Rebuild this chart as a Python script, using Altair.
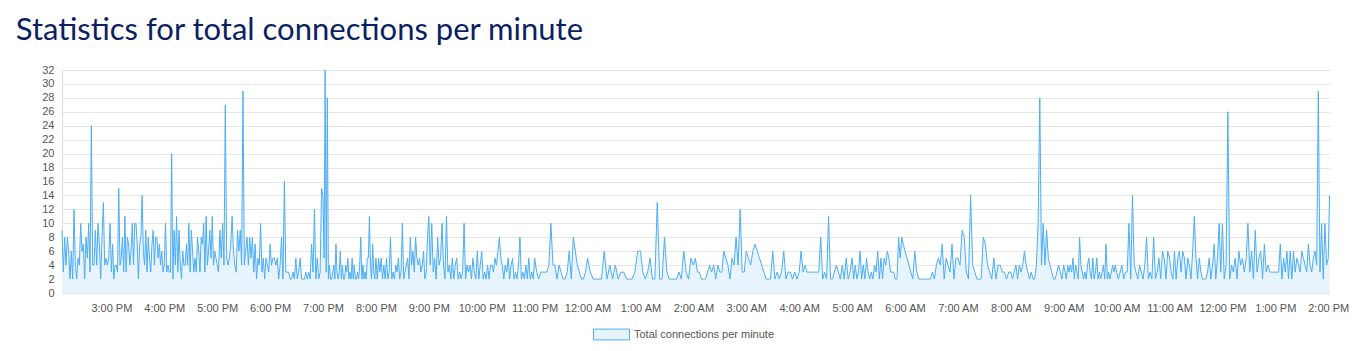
import altair as alt
import pandas as pd
from datetime import datetime, timedelta

# ---- data (grouped by hour) ----
series_name = "Total connections per minute"

hour_starts = [
    "2021-06-01T14:04", "2021-06-01T15:00", "2021-06-01T16:00", "2021-06-01T17:00",
    "2021-06-01T18:00", "2021-06-01T19:00", "2021-06-01T20:00", "2021-06-01T21:00",
    "2021-06-01T22:00", "2021-06-01T23:00", "2021-06-02T00:00", "2021-06-02T01:00",
    "2021-06-02T02:00", "2021-06-02T03:00", "2021-06-02T04:00", "2021-06-02T05:00",
    "2021-06-02T06:00", "2021-06-02T07:00", "2021-06-02T08:00", "2021-06-02T09:00",
    "2021-06-02T10:00", "2021-06-02T11:00", "2021-06-02T12:00", "2021-06-02T13:00",
    "2021-06-02T14:00",
]
hour_ends = hour_starts[1:] + ["2021-06-02T14:03"]

h14 = [9,3,8,4,8,6,2,6,2,12,4,2,5,4,10,6,7,2,8,5,10,3,24,4,4,9,4,10,7,2,8,13,4,5,4,5,10]
h15 = [3,7,2,4,4,3,15,4,5,8,3,11,3,8,7,4,6,10,4,10,10,7,2,7,8,14,6,4,9,3,8,5,3,7,9,4,8,8,5,7,4,6,3]
h16 = [4,10,3,4,3,3,20,2,9,4,11,3,9,4,2,6,4,4,7,4,10,3,9,6,3,5,3,8,6,3,8,7,10,3,11,4,6,9,5,11,4,6,5]
h17 = [4,3,9,5,10,4,27,5,4,5,7,11,6,4,3,9,6,9,4,29,4,6,8,4,8,5,8,3,7,2,5,4,10,3,5,2,5,4,3]
h18 = [7,4,5,5,4,5,2,4,8,2,16,3,3,3,2,2,3,2,5,2,3,5,2,2,2,3,2,3,2,7,3,12,2,5,2,3,15]
h19 = [14,5,32,3,28,2,4,2,2,3,4,2,7,3,2,3,6,2,4,2,2,4,3,5,2,3,2,5,2,4,2,2,3,2,4,8,2,4,2,3,2,5,5,11,4,2,7,3,2]
h20 = [5,2,5,3,5,2,4,2,5,2,3,8,2,3,2,4,3,5,2,3,10,2,3,4,5,2,8,4,6,3,8,5,4,5,3,4,6,2,3,8]
h21 = [11,4,10,3,5,2,8,4,5,10,4,2,11,3,4,2,5,2,4,5,2,3,2,3,10,2,4,3,4,2,5,3,2,6,2,4]
h22 = [6,2,3,2,4,2,4,4,3,5,4,6,8,5,4,2,4,3,5,2,4,5,2,3,2,4,8,2,3,2,4,2,5,2,3,2]
h23 = [5,3,2,3,3,3,3,4,10,4,4,2,4,3,2,2,3,6,2,8,6,4,3,2,2,3]
h00 = [5,3,2,2,2,2,6,2,4,2,4,2,3,3,2,2,2,3,6]
h01 = [6,3,2,3,5,2,2,13,2,2,8,3,2,2,2,2,3,2,6,3,2,5]
h02 = [4,5,3,3,2,2,2,3,4,3,4,2,4,3,3,6,5,4,2,5,4,8,4,12,3,3]
h03 = [6,5,4,6,7,6,5,4,3,2,2,2,6,2,3,2,3,6,2,3,3,2,3,2]
h04 = [3,6,3,4,3,3,3,3,3,3,3,8,2,3,2,11,2,2,3,4,3,2,4,2,5,2,3]
h05 = [5,2,4,2,3,6,2,4,2,5,3,2,3,2,4,3,6,2,5,2,5,4,6,5,3,3,3,2,2,8,5,8,7]
h06 = [6,5,4,3,2,6,3,2,2,2,2,2,2,2,3,2,4,5,4,7,2,5,4,3,7,2,5]
h07 = [5,4,9,8,3,2,14,4,3,2,2,2,8,7,4,3,2,5,2,4,4,3,3,2,3]
h08 = [3,2,3,4,2,4,3,4,6,4,3,2,3,2,2,4,10,28,4,10,4,9,5,4,3,2,2,3,4,3,2]
h09 = [4,3,2,4,3,4,3,5,2,4,3,2,8,4,3,2,3,2,4,5,3,2,5,2,3,5,2,3,2,3,4,2,7,2,3,2,3,4,3,4]
h10 = [3,2,3,4,2,3,3,10,2,14,4,3,2,4,3,2,4,8,2,3,2,8,2,3,5,2,6,5,2,6]
h11 = [5,3,2,6,2,5,6,3,6,5,2,5,4,2,6,11,5,2,5,3,2,2,2,3,5,2,4,7,2,5,10,3]
h12 = [10,2,4,26,2,4,3,5,2,6,4,5,3,5,10,3,6,2,9,3,5,6,2,7,3,4,3,3,3]
h13 = [3,3,3,7,2,5,3,6,2,6,2,6,3,5,4,3,6,5,4,3,7,4,3,5,6,4,29,3,10,2,10,4]
h14b = [5,14]

hour_values = [h14, h15, h16, h17, h18, h19, h20, h21, h22, h23, h00, h01, h02,
               h03, h04, h05, h06, h07, h08, h09, h10, h11, h12, h13, h14b]

rows = []
for hs, he, vals in zip(hour_starts, hour_ends, hour_values):
    t0 = datetime.fromisoformat(hs)
    t1 = datetime.fromisoformat(he)
    span = (t1 - t0).total_seconds()
    n = len(vals)
    for i, v in enumerate(vals):
        t = t0 + timedelta(seconds=span * i / n)
        rows.append({"time": t.strftime("%Y/%m/%d %H:%M:%S"), "value": v, "series": series_name})
df = pd.DataFrame(rows)

line_color = "#4cadf5"
fill_color = "#e8f4fd"
y_ticks = list(range(0, 34, 2))

# hourly tick positions 3 PM .. 2 PM
tick_hours = []
for k in range(24):
    t = datetime(2021, 6, 1, 15) + timedelta(hours=k)
    tick_hours.append(alt.DateTime(year=t.year, month=t.month, date=t.day, hours=t.hour))

x_enc = alt.X(
    "time:T",
    title=None,
    scale=alt.Scale(
        domain=[alt.DateTime(year=2021, month=6, date=1, hours=14, minutes=4),
                alt.DateTime(year=2021, month=6, date=2, hours=14, minutes=2)],
        nice=False,
    ),
    axis=alt.Axis(
        format="%-I:%M %p",
        values=tick_hours,
        grid=False, ticks=False, domain=False,
        labelFont="Liberation Sans", labelFontSize=11, labelColor="#555555",
        labelPadding=9, labelOverlap=False,
    ),
)
y_enc = alt.Y(
    "value:Q",
    title=None,
    scale=alt.Scale(domain=[0, 32], nice=False),
    axis=alt.Axis(
        values=y_ticks, grid=True, gridColor="#e6e6e6", ticks=False,
        domain=True, domainColor="#dddddd",
        labelFont="Liberation Sans", labelFontSize=11, labelColor="#555555",
        labelPadding=8, labelOverlap=False,
    ),
)

base = alt.Chart(df).encode(x=x_enc, y=y_enc)

area = base.mark_area(opacity=1, interpolate="linear").encode(
    fill=alt.Fill(
        "series:N",
        scale=alt.Scale(range=[fill_color]),
        legend=alt.Legend(
            title=None, orient="none", legendX=531, legendY=246,
            symbolType="M-1,-0.3L1,-0.3L1,0.3L-1,0.3Z", symbolSize=1296,
            symbolStrokeColor=line_color, symbolStrokeWidth=1,
            symbolOpacity=1,
            labelFont="Liberation Sans", labelFontSize=11, labelColor="#555555",
            labelOffset=4,
        ),
    ),
)
line = base.mark_line(color=line_color, strokeWidth=1, interpolate="linear")

chart = alt.layer(area, line).properties(
    width=1268,
    height=223,
    background="white",
    autosize=alt.AutoSizeParams(type="none"),
    padding={"left": 62, "top": 70, "right": 35, "bottom": 58},
    title=alt.TitleParams(
        "Statistics for total connections per minute",
        anchor="start", font="Lato", fontSize=31, fontWeight="normal",
        color="#0b1f63", dx=-26, offset=17,
    ),
).configure_view(stroke=None)

chart.save("out.html", embed_options={"renderer": "svg", "actions": False})
